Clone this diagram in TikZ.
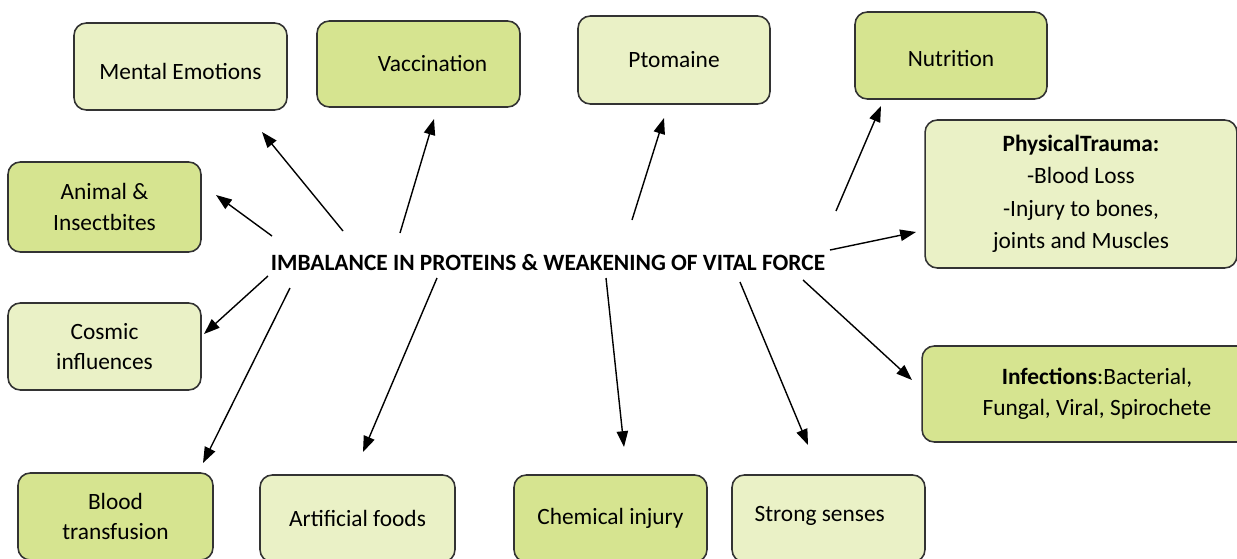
\documentclass[tikz,border=0pt]{standalone}
\usepackage{fontspec}
\setmainfont{Carlito}
\usetikzlibrary{arrows.meta}
\definecolor{paleleaf}{RGB}{234,241,198}
\definecolor{leaf}{RGB}{214,228,144}
\tikzset{
  causebox/.style={draw=black!80, line width=0.9pt, rounded corners=7pt, align=center,
    inner sep=0pt, font=\fontsize{13.3}{17.5}\selectfont},
  pale/.style={causebox, fill=paleleaf},
  deep/.style={causebox, fill=leaf},
  pointer/.style={-{Triangle[length=9pt,width=6.5pt]}, line width=0.8pt},
}
\begin{document}
\begin{tikzpicture}[x=0.02cm,y=-0.02cm]
  \useasboundingbox (0,0) rectangle (1237,558);
  \clip (0,0) rectangle (1237,558);

  % centre
  \node[font=\bfseries\fontsize{13.3}{15}\selectfont] (hub) at (548,263)
    {IMBALANCE IN PROTEINS \& WEAKENING OF VITAL FORCE};

  % top row
  \node[pale, minimum width=4.26cm, minimum height=1.74cm] (emotions) at (180.5,66.5) {\raisebox{0pt}[15pt][0pt]{Mental Emotions}};
  \node[deep, minimum width=4.06cm, minimum height=1.72cm] (vaccination) at (418.5,64) {\hspace*{16pt}Vaccination};
  \node[pale, minimum width=3.84cm, minimum height=1.76cm] (ptomaine) at (674,60) {Ptomaine};
  \node[deep, minimum width=3.84cm, minimum height=1.74cm] (nutrition) at (951,55.5) {\raisebox{0pt}[12.5pt][0pt]{Nutrition}};

  % sides
  \node[deep, minimum width=3.86cm, minimum height=1.8cm] (bites) at (104.5,207) {Animal \&\\Insectbites};
  \node[pale, minimum width=3.86cm, minimum height=1.74cm] (cosmic) at (104.5,346.5) {Cosmic\\influences};
  \node[pale, minimum width=6.24cm, minimum height=2.96cm, font=\fontsize{13.3}{18.5}\selectfont] (trauma) at (1081,194)
    {\textbf{PhysicalTrauma:}\\-Blood Loss\\-Injury to bones,\\joints and Muscles};
  \node[deep, minimum width=7cm, minimum height=1.92cm] (infections) at (1097,394)
    {\textbf{Infections}:Bacterial,\\Fungal, Viral, Spirochete};

  % bottom row
  \node[deep, minimum width=3.9cm, minimum height=1.74cm] (transfusion) at (115.5,516.5) {Blood\\transfusion};
  \node[pale, minimum width=3.9cm, minimum height=1.74cm] (foods) at (357.5,518.5) {Artificial foods};
  \node[deep, minimum width=3.86cm, minimum height=1.74cm] (chemical) at (610.5,518.5) {Chemical injury};
  \node[pale, minimum width=3.86cm, minimum height=1.74cm] (senses) at (828.5,518.5) {\raisebox{5pt}{Strong senses}\hspace*{10pt}};

  % arrows out of the centre
  \foreach \name/\tx/\ty/\hx/\hy in {emotions/343/231/262/132, vaccination/400/233/434/119,
      bites/272/236/216/195, ptomaine/632/220/664/118, nutrition/836/211/881/106,
      trauma/830/250/916/232, cosmic/268/276/204/334, transfusion/290/288/203/463,
      foods/437/278/363/452, chemical/606/278/624/447, senses/740/282/808/445,
      infections/803/280/912/380} {
    \coordinate (\name-tail) at (\tx,\ty);
    \coordinate (\name-tip) at (\hx,\hy);
    \draw[pointer] (\name-tail) -- (\name-tip);
  }
\end{tikzpicture}
\end{document}
